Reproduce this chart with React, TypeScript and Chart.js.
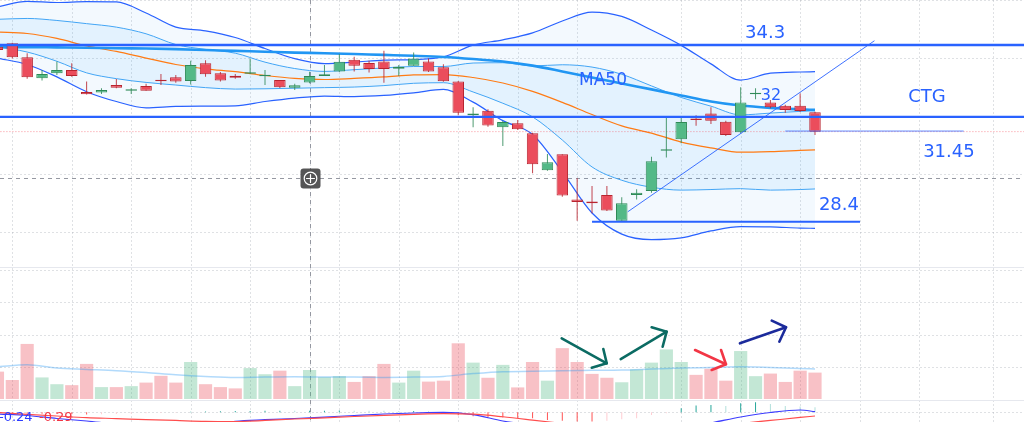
import { useEffect, useRef } from "react";
import { Chart, registerables } from "chart.js";

Chart.register(...registerables);

// ---------------- data ----------------
const opens = [34.40, 34.52, 34.04, 33.31, 33.49, 33.60, 32.84, 32.82, 33.08, 32.88,
  33.05, 33.25, 33.35, 33.22, 33.83, 33.49, 33.40, 33.47, 33.38, 33.25,
  32.99, 33.17, 33.39, 33.55, 33.95, 33.84, 33.89, 33.64, 33.75, 33.89,
  33.69, 33.20, 32.04, 32.19, 31.62, 31.76, 31.41, 30.14, 30.69, 29.13,
  29.06, 29.28, 28.39, 29.28, 29.42, 30.81, 31.21, 31.92, 32.10, 31.81,
  31.45, 32.76, 32.48, 32.36, 32.36, 32.14];
const highs = [34.46, 34.54, 34.18, 33.60, 33.89, 33.83, 33.20, 32.97, 33.29, 32.97,
  33.12, 33.46, 33.43, 33.92, 33.94, 33.53, 33.46, 34.00, 33.60, 33.25,
  33.12, 33.54, 33.77, 34.15, 34.06, 33.92, 34.26, 33.77, 34.20, 34.00,
  33.80, 33.22, 32.31, 32.24, 31.85, 31.87, 31.43, 30.70, 30.69, 29.86,
  29.59, 29.59, 29.20, 29.48, 30.60, 32.01, 31.99, 32.04, 32.31, 31.85,
  33.00, 32.97, 32.56, 32.40, 32.79, 32.16];
const lows = [34.26, 34.00, 33.30, 33.24, 33.43, 33.37, 32.75, 32.77, 32.97, 32.77,
  32.88, 33.08, 33.16, 33.10, 33.37, 33.20, 33.30, 33.46, 33.08, 32.98,
  32.91, 33.14, 33.39, 33.53, 33.55, 33.51, 33.16, 33.39, 33.75, 33.53,
  33.19, 32.04, 31.62, 31.64, 30.97, 31.53, 30.03, 30.12, 29.22, 28.39,
  28.65, 28.73, 28.39, 29.13, 29.36, 30.58, 31.07, 31.67, 31.73, 31.32,
  31.41, 32.59, 32.28, 32.12, 32.15, 31.35];
const closes = [34.29, 34.04, 33.35, 33.46, 33.60, 33.39, 32.76, 32.91, 32.99, 32.89,
  32.88, 33.21, 33.20, 33.77, 33.45, 33.24, 33.33, 33.51, 33.40, 33.00,
  33.07, 33.39, 33.45, 33.88, 33.75, 33.63, 33.63, 33.71, 34.00, 33.55,
  33.21, 32.12, 32.10, 31.68, 31.80, 31.55, 30.34, 30.41, 29.26, 29.04,
  29.00, 28.75, 29.00, 29.36, 30.45, 30.86, 31.80, 31.87, 31.85, 31.35,
  32.48, 32.79, 32.31, 32.22, 32.18, 31.47];
const volumes = [0.85, 0.59, 1.71, 0.67, 0.46, 0.43, 1.09, 0.37, 0.37, 0.40,
  0.51, 0.72, 0.51, 1.15, 0.46, 0.37, 0.33, 0.96, 0.77, 0.88,
  0.40, 0.90, 0.68, 0.71, 0.53, 0.71, 1.09, 0.51, 0.88, 0.54,
  0.57, 1.73, 1.13, 0.66, 1.06, 0.36, 1.15, 0.57, 1.58, 1.15,
  0.78, 0.66, 0.52, 0.92, 1.13, 1.54, 1.15, 0.75, 0.94, 0.57,
  1.49, 0.71, 0.79, 0.53, 0.88, 0.82];
const macdHist = [-0.010, -0.012, -0.015, -0.018, -0.020, -0.022, -0.025, -0.022, -0.020, -0.015,
  -0.012, -0.008, -0.004, 0.006, 0.010, 0.012, 0.014, 0.016, 0.018, 0.018,
  0.017, 0.018, 0.018, 0.020, 0.019, 0.018, 0.017, 0.016, 0.016, 0.012,
  -0.020, -0.035, -0.045, -0.055, -0.060, -0.065, -0.070, -0.090, -0.097, -0.108,
  -0.108, -0.097, -0.081, -0.070, -0.031, -0.012, 0.047, 0.078, 0.085, 0.073,
  0.105, 0.116, 0.097, 0.073, 0.066, 0.058];

// indicator samples (bar index of each sample)
const bandIdx = [0, 2, 4, 6, 8, 10, 12, 14, 16, 18, 20, 22, 24, 26, 28, 30, 32, 34, 36, 38, 40, 42, 44, 46, 48, 50, 52, 54, 55];
const bbOuterUpper = [35.78, 35.97, 35.93, 35.96, 35.95, 35.57, 35.08, 34.95, 34.72, 34.34, 33.99, 33.82, 33.87, 33.94, 33.96, 34.05, 34.46, 34.64, 34.88, 35.29, 35.60, 35.45, 34.98, 34.45, 33.81, 33.25, 33.49, 33.53, 33.54];
const bbOuterLower = [34.01, 33.79, 33.36, 32.85, 32.51, 32.29, 32.34, 32.35, 32.36, 32.51, 32.63, 32.70, 32.68, 32.72, 32.81, 32.93, 32.49, 31.85, 31.37, 30.08, 28.66, 27.93, 27.74, 27.80, 28.04, 28.19, 28.18, 28.14, 28.13];
const bbInnerUpper = [35.35, 35.38, 35.31, 35.20, 35.08, 34.85, 34.48, 34.31, 34.18, 33.87, 33.65, 33.55, 33.61, 33.67, 33.72, 33.72, 33.84, 33.85, 33.74, 33.78, 33.70, 33.45, 33.05, 32.65, 32.35, 32.05, 32.11, 32.17, 32.19];
const bbInnerLower = [34.40, 34.22, 33.90, 33.50, 33.30, 33.17, 33.08, 32.99, 32.94, 32.95, 32.97, 32.99, 33.01, 33.06, 33.14, 33.16, 32.84, 32.45, 31.98, 31.18, 30.25, 29.79, 29.55, 29.45, 29.47, 29.50, 29.45, 29.47, 29.49];
const bbBasis = [34.91, 34.86, 34.69, 34.43, 34.24, 34.01, 33.79, 33.64, 33.54, 33.41, 33.31, 33.27, 33.31, 33.36, 33.43, 33.44, 33.34, 33.15, 32.86, 32.48, 32.06, 31.67, 31.42, 31.11, 30.91, 30.76, 30.78, 30.82, 30.84];
const ma50 = [34.39, 34.39, 34.38, 34.37, 34.35, 34.34, 34.32, 34.29, 34.26, 34.23, 34.20, 34.18, 34.15, 34.12, 34.09, 34.05, 33.98, 33.89, 33.75, 33.55, 33.34, 33.13, 32.93, 32.72, 32.51, 32.37, 32.29, 32.24, 32.22];
const volMa = [1.00, 1.06, 0.96, 0.92, 0.88, 0.82, 0.75, 0.70, 0.67, 0.68, 0.69, 0.68, 0.68, 0.67, 0.68, 0.70, 0.79, 0.85, 0.86, 0.88, 0.89, 0.90, 0.93, 0.96, 0.98, 1.00, 0.98, 0.95, 0.93];
const macdLine = [-0.267, -0.284, -0.319, -0.348, -0.383, -0.406, -0.418, -0.406, -0.352, -0.333, -0.319, -0.302, -0.284, -0.267, -0.255, -0.247, -0.273, -0.348, -0.395, -0.430, -0.453, -0.465, -0.453, -0.430, -0.371, -0.302, -0.249, -0.220, -0.240];
const signalLine = [-0.249, -0.270, -0.290, -0.309, -0.320, -0.332, -0.342, -0.352, -0.354, -0.342, -0.325, -0.311, -0.296, -0.282, -0.270, -0.262, -0.269, -0.299, -0.337, -0.377, -0.412, -0.435, -0.447, -0.441, -0.418, -0.377, -0.342, -0.307, -0.290];

// drawings (data coordinates: bar index, price)
const fullLevels = [34.46, 31.98];
const segLevels = [
  { price: 28.36, from: 40, to: 58.03 },
  { price: 31.49, from: 53, to: 65 },
];
const trendLine = [
  { x: 42.4, y: 28.70 },
  { x: 59.0, y: 34.61 },
];
const textLabels = [
  { text: "34.3", x: 51.64, y: 34.70 },
  { text: "CTG", x: 62.53, y: 32.49 },
  { text: "31.45", x: 64.01, y: 30.59 },
  { text: "28.4", x: 56.61, y: 28.76 },
  { text: "MA50", x: 40.74, y: 33.08 },
  { text: "32", x: 52.04, y: 32.56 },
];
// arrows in volume pane (bar index, volume)
const arrows = [
  { from: [37.96, 1.885], to: [40.99, 1.109], h1: [39.98, 0.972], h2: [40.76, 1.553] },
  { from: [41.93, 1.242], to: [45.02, 2.090], h1: [44.01, 2.227], h2: [44.75, 1.624] },
  { from: [46.93, 1.522], to: [49.01, 1.078], h1: [48.05, 0.901], h2: [48.68, 1.522] },
  { from: [49.95, 1.730], to: [53.05, 2.227], h1: [52.09, 2.432], h2: [52.60, 1.780] },
];
const priceGrid = [36, 34, 32, 30, 28];
const volGrid = [1, 2, 3, 4];
const timeGrid = [1, 5, 9, 13, 17, 21, 23, 27, 31, 35, 39, 46, 50, 54, 58, 62, 67];
const crossBar = 21;
const crossPrice = 29.86;

// ---------------- styles ----------------
const UP = "#53b987";
const DOWN = "#eb4d5c";
const UP_BORDER = "#2f8a57";
const DOWN_BORDER = "#b8242f";
const BLUE = "#2962ff";
const labelSizes = [18, 18, 18, 18, 17, 16];
const arrowColors = ["#0b6b63", "#0b6b63", "#f23645", "#1b2a9b"];
const VOL_PANE_TOP = 4.11; // volume units
const MACD_PANE_TOP = -0.02;

const decorPlugin = {
  id: "tvDecor",
  beforeDatasetsDraw(chart: any) {
    const { ctx, chartArea: a, scales } = chart;
    const xs = scales.x, yp = scales.y, yv = scales.yVol, yh = scales.yHist;
    ctx.save();
    const hline = (py: number, x0 = a.left, x1 = a.right) => {
      ctx.beginPath(); ctx.moveTo(x0, py); ctx.lineTo(x1, py); ctx.stroke();
    };
    ctx.lineWidth = 1;
    ctx.strokeStyle = "rgba(150,155,165,0.30)";
    ctx.setLineDash([2, 2]);
    for (const t of timeGrid) {
      const px = Math.round(xs.getPixelForValue(t)) + 0.5;
      ctx.beginPath(); ctx.moveTo(px, a.top); ctx.lineTo(px, a.bottom); ctx.stroke();
    }
    const volTopPx = yv.getPixelForValue(VOL_PANE_TOP);
    for (const p of priceGrid) {
      const py = Math.round(yp.getPixelForValue(p)) + 0.5;
      if (py < volTopPx) hline(py);
    }
    for (const v of volGrid) hline(Math.round(yv.getPixelForValue(v)) + 0.5);
    hline(Math.round(yh.getPixelForValue(0)) + 0.5);
    ctx.setLineDash([]);
    ctx.strokeStyle = "#e6e8ee";
    hline(Math.round(volTopPx) + 0.5);
    hline(Math.round(yv.getPixelForValue(MACD_PANE_TOP)) + 0.5);
    // crosshair
    ctx.strokeStyle = "#9598a1";
    ctx.setLineDash([4, 4]);
    const cx = Math.round(xs.getPixelForValue(crossBar)) + 0.5;
    const cy = Math.round(yp.getPixelForValue(crossPrice)) + 0.5;
    ctx.beginPath(); ctx.moveTo(cx, a.top); ctx.lineTo(cx, a.bottom); ctx.stroke();
    hline(cy);
    ctx.restore();
  },
  afterDatasetsDraw(chart: any) {
    const { ctx, scales } = chart;
    const xs = scales.x, yp = scales.y, yv = scales.yVol, yh = scales.yHist;
    ctx.save();
    // text labels
    ctx.fillStyle = BLUE;
    ctx.textAlign = "center";
    ctx.textBaseline = "alphabetic";
    textLabels.forEach((l, i) => {
      ctx.font = `${labelSizes[i]}px "DejaVu Sans"`;
      ctx.fillText(l.text, xs.getPixelForValue(l.x), yp.getPixelForValue(l.y));
    });
    // arrows
    ctx.lineCap = "round";
    ctx.lineJoin = "round";
    ctx.lineWidth = 2.6;
    arrows.forEach((ar, i) => {
      ctx.strokeStyle = arrowColors[i];
      const P = (p: number[]) => [xs.getPixelForValue(p[0]), yv.getPixelForValue(p[1])];
      const f = P(ar.from), t = P(ar.to), h1 = P(ar.h1), h2 = P(ar.h2);
      ctx.beginPath(); ctx.moveTo(f[0], f[1]); ctx.lineTo(t[0], t[1]); ctx.stroke();
      ctx.beginPath(); ctx.moveTo(h1[0], h1[1]); ctx.lineTo(t[0], t[1]); ctx.lineTo(h2[0], h2[1]); ctx.stroke();
    });
    // crosshair centre icon
    const cx = Math.round(xs.getPixelForValue(crossBar)) + 0.5;
    const cy = Math.round(yp.getPixelForValue(crossPrice)) + 0.5;
    ctx.fillStyle = "rgba(70,70,72,0.92)";
    ctx.beginPath();
    (ctx as any).roundRect(cx - 10, cy - 10, 20, 20, 3);
    ctx.fill();
    ctx.strokeStyle = "#ffffff";
    ctx.lineWidth = 1.2;
    ctx.beginPath(); ctx.arc(cx, cy, 6.3, 0, Math.PI * 2); ctx.stroke();
    ctx.beginPath();
    ctx.moveTo(cx - 4, cy); ctx.lineTo(cx + 4, cy);
    ctx.moveTo(cx, cy - 4); ctx.lineTo(cx, cy + 4);
    ctx.stroke();
    // MACD legend values
    ctx.font = '13px "DejaVu Sans"';
    ctx.textAlign = "left";
    const base = yh.getPixelForValue(0) + 9;
    ctx.fillStyle = "#2d3cff";
    ctx.fillText(macdLine[macdLine.length - 1].toFixed(2), -1, base);
    ctx.fillStyle = "#f23645";
    ctx.fillText(signalLine[signalLine.length - 1].toFixed(2), 39, base);
    ctx.restore();
  },
};

export default function App() {
  const ref = useRef<HTMLCanvasElement>(null);
  useEffect(() => {
    const canvas = ref.current;
    if (!canvas) return;
    const isUp = opens.map((o, i) => closes[i] >= o);
    const pts = (vals: number[]) => vals.map((v, k) => ({ x: bandIdx[k], y: v }));
    const line = (data: any[], color: string, width: number, order: number, extra: any = {}) => ({
      type: "line", data, borderColor: color, borderWidth: width, pointRadius: 0,
      fill: false, order, cubicInterpolationMode: "monotone", ...extra,
    });
    const histColors = macdHist.map((h, i) => {
      const prev = i > 0 ? macdHist[i - 1] : h;
      if (h >= 0) return h >= prev ? "#26a69a" : "#b2dfdb";
      return h <= prev ? "#ff5252" : "#ffcdd2";
    });
    const last = closes[closes.length - 1];

    const datasets: any[] = [
      line(pts(bbOuterUpper), BLUE, 1.2, 40, { fill: "+1", backgroundColor: "rgba(33,150,243,0.055)" }),
      line(pts(bbOuterLower), BLUE, 1.2, 39),
      line(pts(bbInnerUpper), "#42a5f5", 1, 38, { fill: "+1", backgroundColor: "rgba(33,150,243,0.075)" }),
      line(pts(bbInnerLower), "#42a5f5", 1, 37),
      line(pts(bbBasis), "#ff7b14", 1.2, 36),
      line(pts(ma50), "#2196f3", 2.6, 35),
      line([{ x: 0, y: last }, { x: 70, y: last }], "rgba(242,54,69,0.55)", 1, 34, { borderDash: [1, 2] }),
      {
        type: "bar", yAxisID: "yVol", order: 33, grouped: false, barThickness: 13.2, inflateAmount: 0,
        data: volumes.map((v, i) => ({ x: i, y: v })),
        backgroundColor: isUp.map((u) => (u ? "rgba(83,185,135,0.35)" : "rgba(235,77,92,0.35)")),
      },
      line(pts(volMa), "rgba(33,150,243,0.35)", 1.5, 32, { yAxisID: "yVol" }),
      {
        type: "bar", yAxisID: "yHist", order: 31, grouped: false, barThickness: 1, inflateAmount: 0,
        data: macdHist.map((h, i) => ({ x: i, y: h })), backgroundColor: histColors,
      },
      line(pts(macdLine), "#3d3dff", 1.2, 30, { yAxisID: "yMacd" }),
      line(pts(signalLine), "#ff4d4d", 1.2, 29, { yAxisID: "yMacd" }),
      {
        type: "bar", order: 10, grouped: false, barThickness: 1, inflateAmount: 0,
        data: lows.map((l, i) => ({ x: i, y: [l, highs[i]] })),
        backgroundColor: isUp.map((u) => (u ? "rgba(47,138,87,0.85)" : "rgba(184,36,47,0.85)")),
      },
      {
        type: "bar", order: 9, grouped: false, barThickness: 11.5, inflateAmount: 0, minBarLength: 1.5,
        borderSkipped: false, borderWidth: 1,
        data: opens.map((o, i) => ({ x: i, y: [o, closes[i]] })),
        backgroundColor: isUp.map((u) => (u ? UP : DOWN)),
        borderColor: isUp.map((u) => (u ? UP_BORDER : DOWN_BORDER)),
      },
      ...fullLevels.map((p) => line([{ x: 0, y: p }, { x: 70, y: p }], BLUE, 2.4, 2)),
      line([{ x: segLevels[0].from, y: segLevels[0].price }, { x: segLevels[0].to, y: segLevels[0].price }], BLUE, 2, 2),
      line([{ x: segLevels[1].from, y: segLevels[1].price }, { x: segLevels[1].to, y: segLevels[1].price }], "rgba(41,98,255,0.75)", 1, 2),
      line(trendLine, "rgba(41,98,255,0.9)", 1, 2),
    ];

    const chart = new Chart(canvas, {
      type: "bar",
      data: { datasets },
      plugins: [decorPlugin],
      options: {
        animation: false,
        responsive: false,
        maintainAspectRatio: false,
        events: [],
        layout: { padding: 0 },
        plugins: { legend: { display: false }, tooltip: { enabled: false }, filler: { propagate: false } } as any,
        scales: {
          x: { type: "linear", min: 0.1726, max: 69.06, display: false, offset: false },
          y: { type: "linear", min: 21.44, max: 36.017, display: false },
          yVol: { type: "linear", min: -0.714, max: 12.391, display: false },
          yMacd: { type: "linear", min: -0.3598, max: 4.547, display: false },
          yHist: { type: "linear", min: -0.1128, max: 4.794, display: false },
        } as any,
      },
    } as any);
    return () => chart.destroy();
  }, []);

  return (
    <div style={{ position: "fixed", left: 0, top: 0, width: 1024, height: 422, background: "#ffffff" }}>
      <canvas ref={ref} width={1024} height={422} style={{ display: "block", width: 1024, height: 422 }} />
    </div>
  );
}
